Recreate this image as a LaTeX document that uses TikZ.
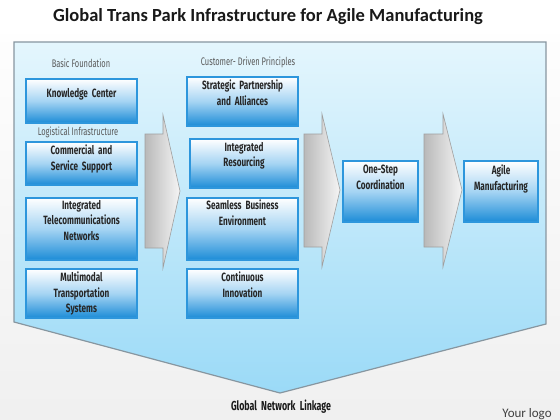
\documentclass[tikz,border=0pt]{standalone}
\usepackage{fontspec}
\setmainfont{Carlito}
\newfontfamily\agency{Fira Sans}[FakeStretch=0.68]
\usetikzlibrary{positioning}
\definecolor{boxblue}{RGB}{28,140,215}
\definecolor{boxmid}{RGB}{165,212,243}
\definecolor{boxedge}{RGB}{45,150,220}
\definecolor{paneltop}{RGB}{228,246,253}
\definecolor{panelbot}{RGB}{155,218,247}
\definecolor{paneledge}{RGB}{135,150,160}
\tikzset{
  bluebox/.style={draw=boxedge, line width=1.6pt, top color=white, bottom color=boxblue, middle color=boxmid,
    inner sep=0pt, outer sep=0pt, anchor=north west},
  btext/.style={font=\agency\bfseries\fontsize{12}{15.5}\selectfont, text=black!85, align=center, anchor=north, inner sep=0pt},
  slabel/.style={font=\agency\fontsize{11}{12}\selectfont, text=black!65, inner sep=0pt},
  bigarrow/.style={draw=gray!75, line width=0.6pt, left color=gray!55, right color=gray!8},
}
\begin{document}
\begin{tikzpicture}[x=1pt,y=-1pt]
\useasboundingbox (0,0) rectangle (560,420);
% background
\shade[left color=white, right color=gray!12, shading angle=0] (0,0) rectangle (560,420);
\fill[white] (0,0) rectangle (560,34);
% title
\node[font=\bfseries\fontsize{18.5}{21}\selectfont, text=black!90] (title) at (268,17) {Global Trans Park Infrastructure for Agile Manufacturing};
% panel
\shade[top color=paneltop, bottom color=panelbot, draw=paneledge, line width=1.2pt]
  (14,42) -- (546,42) -- (546,324) -- (280,393) -- (14,322) -- cycle;
% big arrows
\path[bigarrow] (145,134) -- (163,134) -- (163,115) -- (180,191) -- (163,268) -- (163,248) -- (145,248) -- cycle;
\path[bigarrow] (304,134) -- (322,134) -- (322,114) -- (340,190) -- (322,267) -- (322,247) -- (304,247) -- cycle;
\path[bigarrow] (424,134) -- (443,134) -- (443,114) -- (462,190) -- (443,267) -- (443,247) -- (424,247) -- cycle;
% small labels
\node[slabel] (lbf) at (81,63) {Basic Foundation};
\node[slabel] (lcd) at (248,62) {Customer- Driven Principles};
\node[slabel] (lli) at (78,132) {Logistical Infrastructure};
% left column
\node[bluebox, minimum width=111pt, minimum height=44pt] (kc) at (26,79) {};
\node[btext] at ([yshift=-9pt]kc.north) {Knowledge\ \ Center};
\node[bluebox, minimum width=111pt, minimum height=43pt] (cs) at (26,142) {};
\node[btext] at ([yshift=-3pt]cs.north) {Commercial\ \ and\\Service\ \ Support};
\node[bluebox, minimum width=111pt, minimum height=62pt] (it) at (26,198) {};
\node[btext] at ([yshift=-2pt]it.north) {Integrated\\Telecommunications\\Networks};
\node[bluebox, minimum width=111pt, minimum height=49pt] (mt) at (26,269) {};
\node[btext] at ([yshift=-3pt]mt.north) {Multimodal\\Transportation\\Systems};
% middle column
\node[bluebox, minimum width=111pt, minimum height=49pt] (sp) at (187,77) {};
\node[btext] at ([yshift=-3pt]sp.north) {Strategic\ \ Partnership\\and\ \ Alliances};
\node[bluebox, minimum width=108pt, minimum height=49pt] (ir) at (190,139) {};
\node[btext] at ([yshift=-3pt]ir.north) {Integrated\\Resourcing};
\node[bluebox, minimum width=111pt, minimum height=62pt] (sb) at (187,198) {};
\node[btext] at ([yshift=-2pt]sb.north) {Seamless\ \ Business\\Environment};
\node[bluebox, minimum width=111pt, minimum height=49pt] (ci) at (187,269) {};
\node[btext] at ([yshift=-3pt]ci.north) {Continuous\\Innovation};
% right boxes
\node[bluebox, minimum width=75pt, minimum height=61pt] (os) at (343,161) {};
\node[btext] at ([yshift=-4pt]os.north) {One-Step\\Coordination};
\node[bluebox, minimum width=74pt, minimum height=61pt] (am) at (464,161) {};
\node[btext] at ([yshift=-4pt]am.north) {Agile\\Manufacturing};
% bottom
\node[font=\agency\bfseries\fontsize{13}{15}\selectfont, text=black!90] (gnl) at (281,407) {Global\ \ Network\ \ Linkage};
\node[font=\fontsize{13}{15}\selectfont, text=black!75] (logo) at (527,414) {Your logo};
\end{tikzpicture}
\end{document}
